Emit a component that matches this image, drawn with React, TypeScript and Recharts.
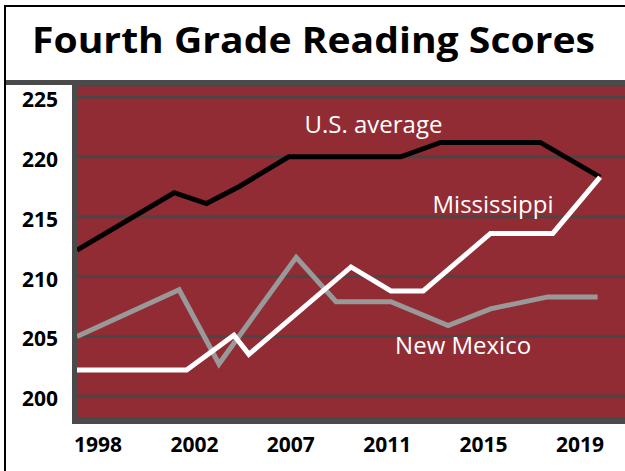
import { CartesianGrid, Line, LineChart, ReferenceDot, XAxis, YAxis } from "recharts"

const yearTicks = ["1998", "2002", "2007", "2011", "2015", "2019"]
const scoreTicks = [200, 205, 210, 215, 220, 225]

// U.S. average
const usYears = [1998, 2001.9, 2003.2, 2004.5, 2006.5, 2011.0, 2012.6, 2016.6, 2019.0]
const usScores = [212.2, 217.0, 216.1, 217.5, 220.0, 220.0, 221.2, 221.2, 218.3]

// Mississippi
const msYears = [1998, 2002.4, 2004.3, 2004.9, 2009.0, 2010.6, 2011.9, 2014.6, 2017.1, 2019.0]
const msScores = [202.2, 202.2, 205.1, 203.5, 210.8, 208.8, 208.8, 213.6, 213.6, 218.3]

// New Mexico
const nmYears = [1998, 2002.1, 2003.7, 2006.8, 2008.4, 2010.6, 2012.9, 2014.6, 2016.9, 2018.9]
const nmScores = [205.0, 208.9, 202.7, 211.6, 207.9, 207.9, 205.9, 207.3, 208.3, 208.3]

const toRows = (years: number[], scores: number[]) =>
  years.map((year, i) => ({ year, score: scores[i] }))

const usData = toRows(usYears, usScores)
const msData = toRows(msYears, msScores)
const nmData = toRows(nmYears, nmScores)
// the printed year labels sit evenly spaced under the plot
const labelRows = yearTicks.map((label) => ({ label }))

const RED = "#922c34"
const FRAME = "#4a4a4a"
const FONT = "'Open Sans', sans-serif"

function XTick(props: any) {
  const { x, y, payload } = props
  return (
    <text x={x} y={y + 15} textAnchor="middle" fontFamily={FONT} fontWeight={700} fontSize={21} fill="#000">
      {payload.value}
    </text>
  )
}

function YTick(props: any) {
  const { x, y, payload } = props
  return (
    <text x={x} y={y + 10} textAnchor="end" fontFamily={FONT} fontWeight={700} fontSize={21} fill="#000">
      {payload.value}
    </text>
  )
}

const seriesLabel = (value: string) => ({
  value,
  position: "center" as const,
  fill: "#fff",
  fontSize: 24,
  fontFamily: FONT,
})

const lineProps = {
  xAxisId: "years",
  dataKey: "score",
  type: "linear" as const,
  strokeWidth: 5,
  strokeLinejoin: "miter" as const,
  dot: false,
  isAnimationActive: false,
}

export default function App() {
  return (
    <div style={{ position: "relative", width: 625, height: 471, background: "#fff", overflow: "hidden" }}>
      <style>{"body{margin:0}"}</style>
      <LineChart width={625} height={471} data={labelRows} margin={{ top: 85, right: 0, bottom: 0, left: 0 }}>
        <CartesianGrid xAxisId="labels" vertical={false} fill={RED} stroke="#474747" strokeWidth={3} />
        <XAxis xAxisId="years" type="number" dataKey="year" domain={[1998, 2020]} allowDataOverflow hide />
        <XAxis
          xAxisId="labels"
          type="category"
          dataKey="label"
          scale="point"
          padding={{ left: 21, right: 45 }}
          interval={0}
          height={52}
          axisLine={false}
          tickLine={false}
          tickSize={0}
          tickMargin={18}
          tick={<XTick />}
        />
        <YAxis
          type="number"
          domain={[198.1, 226]}
          ticks={scoreTicks}
          interval={0}
          allowDataOverflow
          width={77}
          axisLine={false}
          tickLine={false}
          tickSize={0}
          tickMargin={19}
          tick={<YTick />}
        />
        <Line {...lineProps} data={nmData} stroke="#999999" />
        <Line {...lineProps} data={usData} stroke="#000000" />
        <Line {...lineProps} data={msData} stroke="#ffffff" />
        <ReferenceDot xAxisId="years" x={2009.9} y={222.7} r={0} fill="none" stroke="none" label={seriesLabel("U.S. average")} />
        <ReferenceDot xAxisId="years" x={2014.7} y={216.0} r={0} fill="none" stroke="none" label={seriesLabel("Mississippi")} />
        <ReferenceDot xAxisId="years" x={2013.5} y={204.2} r={0} fill="none" stroke="none" label={seriesLabel("New Mexico")} />
      </LineChart>

      {/* frame: black outline, grey plot border, title */}
      <div style={{ position: "absolute", left: 4, top: 5, width: 621, height: 2, background: "#000" }} />
      <div style={{ position: "absolute", left: 4, top: 5, width: 2, height: 466, background: "#000" }} />
      <div style={{ position: "absolute", left: 6, top: 80, width: 619, height: 5, background: FRAME }} />
      <div style={{ position: "absolute", left: 72, top: 80, width: 5, height: 344, background: FRAME }} />
      <div style={{ position: "absolute", left: 72, top: 419, width: 553, height: 5, background: FRAME }} />
      <svg width={625} height={80} style={{ position: "absolute", left: 0, top: 0 }}>
        <text x={32} y={53} fontFamily={FONT} fontWeight={700} fontSize={36} fill="#000" textLength={563} lengthAdjust="spacingAndGlyphs">
          Fourth Grade Reading Scores
        </text>
      </svg>
    </div>
  )
}
